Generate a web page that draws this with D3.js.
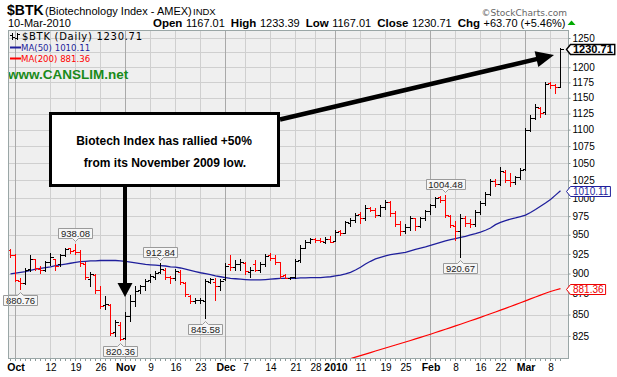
<!DOCTYPE html>
<html>
<head>
<meta charset="utf-8">
<script src="https://cdn.jsdelivr.net/npm/d3@7"></script>
<style>
  body { margin: 0; background: #fff; }
  svg { display: block; }
  text { font-family: "Liberation Sans", Arial, sans-serif; }
</style>
</head>
<body>
<div id="chart"></div>
<script>
// trading days on the chart, 30 Sep 2009 .. 10 Mar 2010
var dates = [
  "2009-09-30",
  "2009-10-01","2009-10-02","2009-10-05","2009-10-06","2009-10-07","2009-10-08","2009-10-09","2009-10-12","2009-10-13","2009-10-14",
  "2009-10-15","2009-10-16","2009-10-19","2009-10-20","2009-10-21","2009-10-22","2009-10-23","2009-10-26","2009-10-27","2009-10-28",
  "2009-10-29","2009-10-30",
  "2009-11-02","2009-11-03","2009-11-04","2009-11-05","2009-11-06","2009-11-09","2009-11-10","2009-11-11","2009-11-12","2009-11-13",
  "2009-11-16","2009-11-17","2009-11-18","2009-11-19","2009-11-20","2009-11-23","2009-11-24","2009-11-25","2009-11-27","2009-11-30",
  "2009-12-01","2009-12-02","2009-12-03","2009-12-04","2009-12-07","2009-12-08","2009-12-09","2009-12-10","2009-12-11","2009-12-14",
  "2009-12-15","2009-12-16","2009-12-17","2009-12-18","2009-12-21","2009-12-22","2009-12-23","2009-12-24","2009-12-28","2009-12-29",
  "2009-12-30","2009-12-31",
  "2010-01-04","2010-01-05","2010-01-06","2010-01-07","2010-01-08","2010-01-11","2010-01-12","2010-01-13","2010-01-14","2010-01-15",
  "2010-01-19","2010-01-20","2010-01-21","2010-01-22","2010-01-25","2010-01-26","2010-01-27","2010-01-28","2010-01-29",
  "2010-02-01","2010-02-02","2010-02-03","2010-02-04","2010-02-05","2010-02-08","2010-02-09","2010-02-10","2010-02-11","2010-02-12",
  "2010-02-16","2010-02-17","2010-02-18","2010-02-19","2010-02-22","2010-02-23","2010-02-24","2010-02-25","2010-02-26",
  "2010-03-01","2010-03-02","2010-03-03","2010-03-04","2010-03-05","2010-03-08","2010-03-09","2010-03-10"
];

var opens = [
  930,923,891,888,906,918,906,904,914,918,
  912,924,932,930,928,912,893,898,880,861,
  861,829,838,823,848,866,879,884,892,896,
  902,905,896,894,902,888,872,866,867,866,
  890,890,884,893,912,908,912,913,902,912,
  904,912,924,920,914,898,895,896,917,933,
  940,945,943,941,945,942,955,953,966,970,
  978,972,986,984,977,988,994,979,964,955,
  961,972,962,972,982,990,1001,997,975,962,
  955,972,966,964,980,993,1005,1024,1020,1037,
  1025,1022,1029,1041,1100,1118,1134,1127,1174,1170,
  1167.01
];
var highs = [
  931,925,894,907,923,919,909,916,926,919,
  925,933,933,938.08,930,914,902,900,884,872,
  863,843,841,853,874,884,886,893,899,903,
  912.84,907,897,906,904,889,873,870,870,893,
  894,895,893,913,923,917,918,914,908,917,
  915,925,926,923,915,900,896,918,936,943,
  946,946,946,947,949,956,957,969,972,979,
  980,990,988,986,990,997,996,982,968,964,
  975,973,974,984,992,1002,1003,1004.48,977,968,
  978,975,971,983,996,1008,1027,1027,1044,1040,
  1036,1031,1043,1102,1122,1140,1136,1176,1176,1172,
  1233.39
];
var lows = [
  921,891,880.76,887,903,905,901,903,911,904,
  909,922,926,925,910,893,884,876,858,857,
  826,825,820.36,822,842,860,876,880,890,893,
  901,893,888,892,887,872,864,864,864,845.58,
  888,868,879,892,905,904,905,900,896,903,
  902,910,917,912,895,894,893,895,915,932,
  939,941,941,939,940,942,950,952,962,967,
  966,970,982,974,975,985,975,962,950,952,
  957,957,960,970,978,988,994,974,960,943,
  920.67,962,960,962,978,990,1004,1017,1018,1022,
  1017,1020,1027,1040,1098,1117,1120,1125,1165,1158,
  1167.01
];
var closes = [
  923,892,888,905,919,907,904,914,921,910,
  923,931,929,928,913,896,899,879,860,862,
  828,841,822,848,866,878,885,891,897,901,
  906,896,894,903,890,875,866,867,868,891,
  893,884,891,910,908,912,914,903,905,904,
  912,922,920,914,897,895,896,916,932,940,
  944,943,942,945,941,954,952,967,970,976,
  972,986,984,977,988,995,979,965,955,961,
  972,962,972,982,990,1000,997,976,963,955,
  972,966,964,980,993,1005,1024,1020,1038,1025,
  1022,1029,1040,1099,1118,1135,1126,1173,1171,1167.01,
  1230.71
];
var prevClose = 931; // close of 29 Sep, only used to colour the first bar

var ma50 = [
  899.5,900.5,901.5,902.5,904,905.5,906.5,907.5,908.5,910,
  911,912,913,914,915,915.5,916,916,916.5,916.5,
  916.5,916.5,916,915.5,914.5,913.5,912.5,911.5,911,910.5,
  910,909.5,908.5,908,907,905.5,904,902.5,901,900,
  898.5,897,896,895,894,893.5,893,892.5,892,892,
  892,892.5,893,893.5,894,894,894,894,894.5,894.5,
  895,895,895,895.5,896,897,898,899.5,901.5,904.5,
  908,912,915.5,918.5,920.5,922.5,924,925,926,927,
  929,931,932.5,934,936,938,940,942,943.5,945,
  946.5,948,950,951.5,953.5,956,959,963.5,966.5,969,
  971,972.5,974.5,976.5,980,984,988.5,993,998,1004,
  1010.11
];
// MA(200) only enters the visible range in January
var ma200Start = "2010-01-06";
var ma200 = [
  797.6,799.3,801.0,802.7,804.4,806.1,807.8,809.5,811.2,812.9,
  814.6,816.3,818.0,819.8,821.6,823.4,825.2,827.0,828.9,830.8,
  832.7,834.6,836.6,838.6,840.6,842.6,844.6,846.7,848.8,850.9,
  853.0,855.2,857.4,859.6,861.8,864.1,866.4,868.7,871.0,873.3,
  875.6,877.8,879.6,881.36
];

var yTicks = [825,850,875,900,925,950,975,1000,1025,1050,1075,1100,1125,1150,1175,1200,1225,1250];
var tickDates = ["2009-10-01","2009-10-12","2009-10-19","2009-10-26","2009-11-02","2009-11-09","2009-11-16","2009-11-23",
  "2009-12-01","2009-12-07","2009-12-14","2009-12-21","2009-12-28","2010-01-04","2010-01-11","2010-01-19","2010-01-25",
  "2010-02-01","2010-02-08","2010-02-16","2010-02-22","2010-03-01","2010-03-08"];
var tickLabels = ["Oct","12","19","26","Nov","9","16","23","Dec","7","14","21","28","2010","11","19","25","Feb","8","16","22","Mar","8"];

// highs / lows that get a value box
var noteDates = ["2009-10-02","2009-10-19","2009-10-30","2009-11-11","2009-11-24","2010-02-04","2010-02-09"];
var noteAbove = [false,true,false,true,false,true,false];

var W = 617, H = 377;
var plot = {left: 8, right: 568, top: 30, bottom: 358};

var svg = d3.select("#chart").append("svg")
    .attr("width", W)
    .attr("height", H);

var x = d3.scalePoint()
    .domain(dates)
    .range([10.5, 560.5]);

var y = d3.scaleLog()
    .domain([800, 1264])
    .range([plot.bottom, plot.top]);

function ry(v) { return Math.round(y(v)) + 0.5; }

// ---- header ----
svg.append("text").attr("x", 7).attr("y", 15)
    .style("font-size", "14px").style("font-weight", "bold").text("$BTK");
svg.append("text").attr("x", 45).attr("y", 15)
    .style("font-size", "11px").text("(Biotechnology Index - AMEX)");
svg.append("text").attr("x", 193).attr("y", 15)
    .style("font-size", "9.5px").text("INDX");
svg.append("text").attr("x", 8).attr("y", 27)
    .style("font-size", "11px").text("10-Mar-2010");

var quote = [["Open", true], ["1167.01", false], ["High", true], ["1233.39", false], ["Low", true], ["1167.01", false],
             ["Close", true], ["1230.71", false], ["Chg", true], ["+63.70 (+5.46%)", false]];
var qt = svg.append("text").attr("x", 153).attr("y", 27).style("font-size", "11px");
quote.forEach(function(q, i) {
    qt.append("tspan")
        .attr("dx", i === 0 ? 0 : (q[1] ? 6 : 3.5))
        .style("font-weight", q[1] ? "bold" : "normal")
        .style("font-size", q[1] ? "11.5px" : "11px")
        .text(q[0]);
});
var qb = qt.node().getBBox();
var qEnd = qb.x + qb.width;
svg.append("path")
    .attr("d", "M" + (qEnd + 2) + ",25 L" + (qEnd + 6) + ",20.5 L" + (qEnd + 10) + ",25 Z")
    .attr("fill", "#0a0");

svg.append("text").attr("x", 567).attr("y", 16).attr("text-anchor", "end")
    .style("font-family", "DejaVu Sans").style("font-size", "9px").attr("fill", "#666")
    .text("\u00a9StockCharts.com");

// ---- plot area ----
svg.append("rect")
    .attr("x", plot.left).attr("y", plot.top)
    .attr("width", plot.right - plot.left).attr("height", plot.bottom - plot.top)
    .attr("fill", "#efefef");

svg.append("defs").append("clipPath").attr("id", "clip")
  .append("rect")
    .attr("x", plot.left).attr("y", plot.top)
    .attr("width", plot.right - plot.left).attr("height", plot.bottom - plot.top);

var grid = svg.append("g").attr("shape-rendering", "crispEdges");

grid.selectAll(".hgrid").data(yTicks).enter().append("line")
    .attr("class", "hgrid")
    .attr("x1", plot.left).attr("x2", plot.right)
    .attr("y1", ry).attr("y2", ry)
    .attr("stroke", "#cfcfcf");

grid.selectAll(".vgrid").data(tickDates).enter().append("line")
    .attr("class", "vgrid")
    .attr("x1", x).attr("x2", x)
    .attr("y1", plot.top).attr("y2", plot.bottom)
    .attr("stroke", function(d, i) { return tickLabels[i].length > 2 ? "#a9a9a9" : "#cfcfcf"; });

var plotG = svg.append("g").attr("clip-path", "url(#clip)");

// moving averages
var line = d3.line()
    .x(function(d) { return x(d[0]); })
    .y(function(d) { return y(d[1]); });

plotG.append("path")
    .datum(dates.map(function(d, i) { return [d, ma50[i]]; }))
    .attr("d", line)
    .attr("fill", "none")
    .attr("stroke", "#1f1f9c")
    .attr("stroke-width", 1.3);

var s200 = dates.indexOf(ma200Start);
plotG.append("path")
    .datum(ma200.map(function(v, i) { return [dates[s200 + i], v]; }))
    .attr("d", line)
    .attr("fill", "none")
    .attr("stroke", "#f00")
    .attr("stroke-width", 1.2);

// OHLC bars
var bars = dates.map(function(d, i) {
    var prev = i ? closes[i - 1] : prevClose;
    return {date: d, o: opens[i], h: highs[i], l: lows[i], c: closes[i], up: closes[i] >= prev};
});

var bar = plotG.selectAll(".bar").data(bars).enter().append("g")
    .attr("class", "bar")
    .attr("shape-rendering", "crispEdges")
    .attr("stroke", function(d) { return d.up ? "#000" : "#f00"; });

bar.append("line")
    .attr("x1", function(d) { return x(d.date); })
    .attr("x2", function(d) { return x(d.date); })
    .attr("y1", function(d) { return Math.round(y(d.h)); })
    .attr("y2", function(d) { return Math.round(y(d.l)) + 1; });
bar.append("line")
    .attr("x1", function(d) { return x(d.date) - 2.5; })
    .attr("x2", function(d) { return x(d.date); })
    .attr("y1", function(d) { return ry(d.o); })
    .attr("y2", function(d) { return ry(d.o); });
bar.append("line")
    .attr("x1", function(d) { return x(d.date); })
    .attr("x2", function(d) { return x(d.date) + 3; })
    .attr("y1", function(d) { return ry(d.c); })
    .attr("y2", function(d) { return ry(d.c); });

// value boxes on swing highs / lows
noteDates.forEach(function(d, k) {
    var i = dates.indexOf(d);
    var above = noteAbove[k];
    var v = above ? highs[i] : lows[i];
    var cx = x(d);
    var g = svg.append("g");
    var t = g.append("text")
        .attr("text-anchor", "middle")
        .attr("x", cx)
        .style("font-size", "9.5px")
        .attr("fill", "#222")
        .text(v.toFixed(2));
    var w = t.node().getComputedTextLength() + 5;
    var bx = Math.round(cx - w / 2) + 0.5, bw = Math.round(w);
    var top, bot, p;
    if (above) {
        bot = Math.round(y(v)) - 5.5; top = bot - 10;
        p = "M" + bx + "," + top + "H" + (bx + bw) + "V" + bot + "H" + (cx + 3) + "L" + cx + "," + (bot + 3) +
            "L" + (cx - 3) + "," + bot + "H" + bx + "Z";
    } else {
        top = Math.round(y(v)) + 6.5; bot = top + 10;
        p = "M" + bx + "," + top + "H" + (cx - 3) + "L" + cx + "," + (top - 3) + "L" + (cx + 3) + "," + top +
            "H" + (bx + bw) + "V" + bot + "H" + bx + "Z";
    }
    g.insert("path", "text").attr("d", p).attr("fill", "#f6f6f6").attr("stroke", "#9a9a9a");
    t.attr("y", bot - 2);
});

// legend
var lg = svg.append("g");
var icon = lg.append("g").attr("stroke", "#000").attr("shape-rendering", "crispEdges");
icon.append("line").attr("x1", 12.5).attr("x2", 12.5).attr("y1", 33).attr("y2", 40);
icon.append("line").attr("x1", 10).attr("x2", 12.5).attr("y1", 35.5).attr("y2", 35.5);
icon.append("line").attr("x1", 12.5).attr("x2", 15).attr("y1", 37.5).attr("y2", 37.5);
icon.append("line").attr("x1", 17.5).attr("x2", 17.5).attr("y1", 33).attr("y2", 40);
icon.append("line").attr("x1", 15).attr("x2", 17.5).attr("y1", 38.5).attr("y2", 38.5);
icon.append("line").attr("x1", 17.5).attr("x2", 20).attr("y1", 34.5).attr("y2", 34.5);
lg.append("text").attr("x", 22).attr("y", 40)
    .style("font-family", "DejaVu Sans").style("font-size", "10px").style("letter-spacing", "0.7px")
    .text("$BTK (Daily) 1230.71");
lg.append("line").attr("x1", 10).attr("x2", 21).attr("y1", 47.5).attr("y2", 47.5)
    .attr("stroke", "#1f1f9c").attr("stroke-width", 2);
lg.append("text").attr("x", 21).attr("y", 51)
    .style("font-family", "DejaVu Sans").style("font-size", "8.6px").attr("fill", "#1f1f9c")
    .text("MA(50) 1010.11");
lg.append("line").attr("x1", 10).attr("x2", 21).attr("y1", 58.5).attr("y2", 58.5)
    .attr("stroke", "#f00").attr("stroke-width", 2);
lg.append("text").attr("x", 21).attr("y", 62)
    .style("font-family", "DejaVu Sans").style("font-size", "8.6px").attr("fill", "#f00")
    .text("MA(200) 881.36");
lg.append("text").attr("x", 8).attr("y", 79)
    .style("font-size", "13.5px").style("font-weight", "bold").attr("fill", "#1a8a1a")
    .text("www.CANSLIM.net");

// callout box and arrows
var note = svg.append("g");
note.append("rect")
    .attr("x", 50.5).attr("y", 113.5).attr("width", 228).attr("height", 72)
    .attr("fill", "#fff").attr("stroke", "#000").attr("stroke-width", 3);
note.append("text").attr("x", 164).attr("y", 145).attr("text-anchor", "middle")
    .style("font-size", "12px").style("font-weight", "bold")
    .text("Biotech Index has rallied +50%");
note.append("text").attr("x", 165).attr("y", 167).attr("text-anchor", "middle")
    .style("font-size", "12px").style("font-weight", "bold")
    .text("from its November 2009 low.");

note.append("line").attr("x1", 125).attr("x2", 125).attr("y1", 187).attr("y2", 284)
    .attr("stroke", "#000").attr("stroke-width", 4);
note.append("path").attr("d", "M117.5,283 L132.5,283 L125,297 Z").attr("fill", "#000");

var a0 = [280, 119.5], a1 = [554, 55];
var dx = a1[0] - a0[0], dy = a1[1] - a0[1], len = Math.sqrt(dx * dx + dy * dy);
var ux = dx / len, uy = dy / len;
var b = [a1[0] - 18 * ux, a1[1] - 18 * uy];
note.append("line").attr("x1", a0[0]).attr("y1", a0[1]).attr("x2", b[0] + ux).attr("y2", b[1] + uy)
    .attr("stroke", "#000").attr("stroke-width", 4.5);
note.append("path")
    .attr("d", "M" + a1[0] + "," + a1[1] +
        " L" + (b[0] - 8 * uy) + "," + (b[1] + 8 * ux) +
        " L" + (b[0] + 8 * uy) + "," + (b[1] - 8 * ux) + " Z")
    .attr("fill", "#000");

// frame
var frame = svg.append("g").attr("shape-rendering", "crispEdges").attr("fill", "none");
frame.append("rect")
    .attr("x", plot.left + 0.5).attr("y", plot.top + 0.5)
    .attr("width", plot.right - plot.left).attr("height", plot.bottom - plot.top)
    .attr("stroke", "#9aa6a6");

// daily ticks under the plot
svg.append("g").attr("shape-rendering", "crispEdges")
  .selectAll("line").data(dates).enter().append("line")
    .attr("x1", x).attr("x2", x)
    .attr("y1", plot.bottom + 1).attr("y2", plot.bottom + 3)
    .attr("stroke", "#8a9a9a");

// axes
var xAxis = d3.axisBottom(x)
    .tickValues(tickDates)
    .tickFormat(function(d, i) { return tickLabels[i]; })
    .tickSize(0)
    .tickPadding(6);
var gx = svg.append("g").attr("transform", "translate(0," + plot.bottom + ")").call(xAxis);
gx.select(".domain").remove();
gx.selectAll("text")
    .attr("fill", "#000")
    .style("font-family", "'Liberation Sans', Arial, sans-serif")
    .style("font-size", function(d, i) { return tickLabels[i].length > 2 ? "10.5px" : "10px"; })
    .style("font-weight", function(d, i) { return tickLabels[i].length > 2 ? "bold" : "normal"; });

// the 1225 label sits fully under the last-price tag, so it is left blank
var yAxis = d3.axisRight(y)
    .tickValues(yTicks)
    .tickFormat(function(d) { return d === 1225 ? "" : d3.format("d")(d); })
    .tickSize(2)
    .tickPadding(2);
var gy = svg.append("g").attr("transform", "translate(" + (plot.right + 0.5) + ",0)").call(yAxis);
gy.select(".domain").remove();
gy.selectAll("line").attr("stroke", "#8a9a9a");
gy.selectAll("text")
    .attr("fill", "#000")
    .style("font-family", "'Liberation Sans', Arial, sans-serif")
    .style("font-size", "10px");

// price tags on the right axis
function tag(v, label, color, bold) {
    var cy = Math.round(y(v)) + 0.5;
    var g = svg.append("g");
    var t = g.append("text").attr("x", 573).attr("y", cy + 3.5)
        .style("font-size", bold ? "11px" : "10px")
        .style("font-weight", bold ? "bold" : "normal")
        .attr("fill", color).text(label);
    var w = t.node().getComputedTextLength();
    g.insert("path", "text")
        .attr("d", "M566.5," + cy + " L570.5," + (cy - 5) + " H" + (575 + w) + " V" + (cy + 5) + " H570.5 Z")
        .attr("fill", "#fff").attr("stroke", color).attr("stroke-width", bold ? 1.4 : 1);
}
tag(881.36, "881.36", "#e00", false);
tag(1010.11, "1010.11", "#1f1f9c", false);
tag(1230.71, "1230.71", "#000", true);
</script>
</body>
</html>
